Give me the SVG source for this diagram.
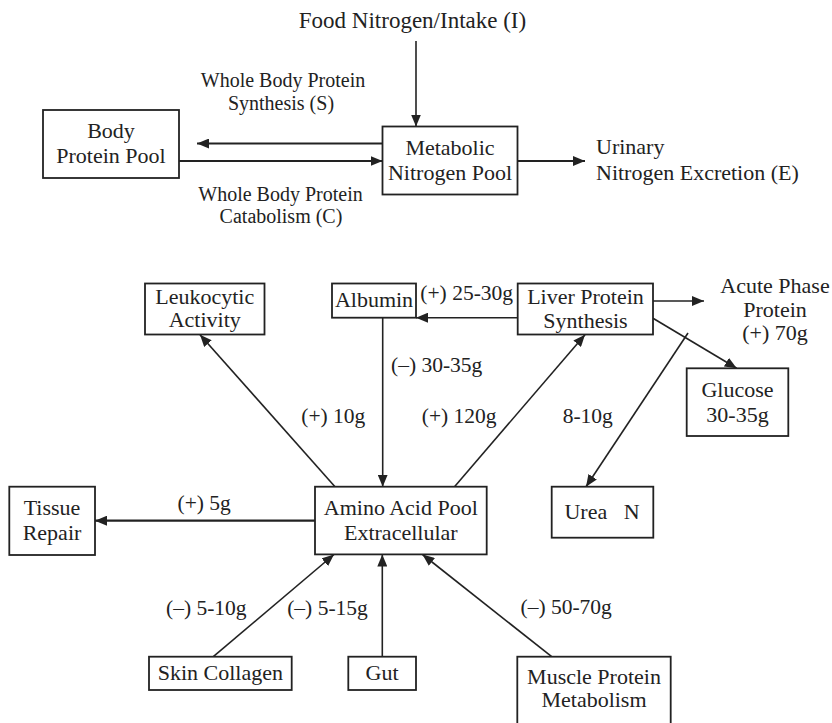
<svg xmlns="http://www.w3.org/2000/svg" width="832" height="723" viewBox="0 0 832 723">
  <style>
    text { font-family: "Liberation Serif", "Times New Roman", serif; font-size: 22px; fill: #222; text-anchor: middle; }
    .lbl { font-size: 21.5px; }
    .small { font-size: 20px; }
    .start { text-anchor: start; }
    .box { fill: #fff; stroke: #222; stroke-width: 1.8; }
    .edge { fill: none; stroke: #222; stroke-width: 1.6; }
    .thick { stroke-width: 2.2; }
  </style>
  <defs>
    <marker id="arrow" viewBox="0 0 12 10" refX="12" refY="5" markerWidth="12" markerHeight="10" markerUnits="userSpaceOnUse" orient="auto">
      <path d="M0,0 L12,5 L0,10 z" fill="#222"/>
    </marker>
  </defs>
  <rect width="832" height="723" fill="#fff"/>

  <!-- connectors -->
  <g id="connectors">
    <line class="edge" x1="416" y1="41" x2="416" y2="126.5" marker-end="url(#arrow)"/>
    <line class="edge thick" x1="382.5" y1="143.5" x2="197" y2="143.5" marker-end="url(#arrow)"/>
    <line class="edge thick" x1="179" y1="161" x2="382.5" y2="161" marker-end="url(#arrow)"/>
    <line class="edge thick" x1="517.5" y1="161" x2="585" y2="161" marker-end="url(#arrow)"/>

    <line class="edge" x1="335" y1="486.7" x2="200" y2="334.7" marker-end="url(#arrow)"/>
    <line class="edge" x1="382.7" y1="317.7" x2="382.7" y2="486.7" marker-end="url(#arrow)"/>
    <line class="edge" x1="517.7" y1="317.7" x2="416" y2="317.7" marker-end="url(#arrow)"/>
    <line class="edge" x1="454.5" y1="486.7" x2="585" y2="334.7" marker-end="url(#arrow)"/>
    <line class="edge" x1="653" y1="301" x2="704" y2="301" marker-end="url(#arrow)"/>
    <line class="edge" x1="653" y1="318.3" x2="736.7" y2="368.3" marker-end="url(#arrow)"/>
    <line class="edge" x1="688" y1="333" x2="586" y2="486.7" marker-end="url(#arrow)"/>
    <line class="edge thick" x1="315" y1="520.7" x2="95" y2="520.7" marker-end="url(#arrow)"/>
    <line class="edge" x1="213.3" y1="656.7" x2="334" y2="554.5" marker-end="url(#arrow)"/>
    <line class="edge" x1="382.3" y1="656.7" x2="382.3" y2="554.5" marker-end="url(#arrow)"/>
    <line class="edge" x1="551.7" y1="656.7" x2="422.5" y2="554.5" marker-end="url(#arrow)"/>
  </g>

  <!-- edge labels -->
  <g id="labels">
    <text x="412.5" y="28" style="font-size:23px">Food Nitrogen/Intake (I)</text>
    <text class="small" x="283" y="87">Whole Body Protein</text>
    <text class="small" x="281" y="110">Synthesis (S)</text>
    <text class="small" x="280.5" y="201">Whole Body Protein</text>
    <text class="small" x="281" y="223">Catabolism (C)</text>
    <text class="start" x="596" y="154">Urinary</text>
    <text class="start" x="596" y="180">Nitrogen Excretion (E)</text>

    <text class="lbl" x="466.7" y="300">(+) 25-30g</text>
    <text class="lbl" x="436.7" y="372">(–) 30-35g</text>
    <text class="lbl" x="333.3" y="423.3">(+) 10g</text>
    <text class="lbl" x="459.2" y="423.3">(+) 120g</text>
    <text class="lbl" x="587.8" y="423.3">8-10g</text>
    <text class="lbl" x="204.2" y="510">(+) 5g</text>
    <text class="lbl" x="206.3" y="615">(–) 5-10g</text>
    <text class="lbl" x="327.5" y="615">(–) 5-15g</text>
    <text class="lbl" x="566.2" y="613.5">(–) 50-70g</text>
    <text x="775" y="293">Acute Phase</text>
    <text x="775" y="316.5">Protein</text>
    <text x="775" y="340">(+) 70g</text>
  </g>

  <!-- nodes -->
  <g id="body-protein-pool">
    <rect class="box" x="43" y="110" width="136" height="68"/>
    <text x="111" y="138">Body</text>
    <text x="111" y="163">Protein Pool</text>
  </g>
  <g id="metabolic-nitrogen-pool">
    <rect class="box" x="382.5" y="126.5" width="135" height="68"/>
    <text x="450" y="155">Metabolic</text>
    <text x="450" y="179.5">Nitrogen Pool</text>
  </g>
  <g id="leukocytic-activity">
    <rect class="box" x="145" y="283.5" width="119.5" height="51"/>
    <text x="204.7" y="303.5">Leukocytic</text>
    <text x="204.7" y="327">Activity</text>
  </g>
  <g id="albumin">
    <rect class="box" x="332" y="283.5" width="84" height="34.2"/>
    <text x="374" y="307">Albumin</text>
  </g>
  <g id="liver-protein-synthesis">
    <rect class="box" x="517.7" y="283.5" width="135.3" height="51"/>
    <text x="585.5" y="303.5">Liver Protein</text>
    <text x="585.5" y="327.5">Synthesis</text>
  </g>
  <g id="glucose">
    <rect class="box" x="686.7" y="368.3" width="101.6" height="67.7"/>
    <text x="737.5" y="397">Glucose</text>
    <text x="737.5" y="422">30-35g</text>
  </g>
  <g id="tissue-repair">
    <rect class="box" x="9.3" y="486.7" width="85.7" height="68.3"/>
    <text x="52" y="515">Tissue</text>
    <text x="52" y="540">Repair</text>
  </g>
  <g id="amino-acid-pool">
    <rect class="box" x="315" y="486.7" width="171.7" height="67.7"/>
    <text x="400.8" y="515">Amino Acid Pool</text>
    <text x="400.8" y="540">Extracellular</text>
  </g>
  <g id="urea-n">
    <rect class="box" x="551.7" y="486.7" width="101.6" height="51"/>
    <text x="602" y="519" style="white-space:pre">Urea   N</text>
  </g>
  <g id="skin-collagen">
    <rect class="box" x="149" y="656.7" width="142.7" height="33.3"/>
    <text x="220.3" y="679.5">Skin Collagen</text>
  </g>
  <g id="gut">
    <rect class="box" x="348.3" y="656.7" width="67.7" height="33.3"/>
    <text x="382" y="679.5">Gut</text>
  </g>
  <g id="muscle-protein-metabolism">
    <rect class="box" x="517.3" y="656.7" width="153.4" height="80"/>
    <text x="594" y="683.5">Muscle Protein</text>
    <text x="594" y="707">Metabolism</text>
  </g>
</svg>
